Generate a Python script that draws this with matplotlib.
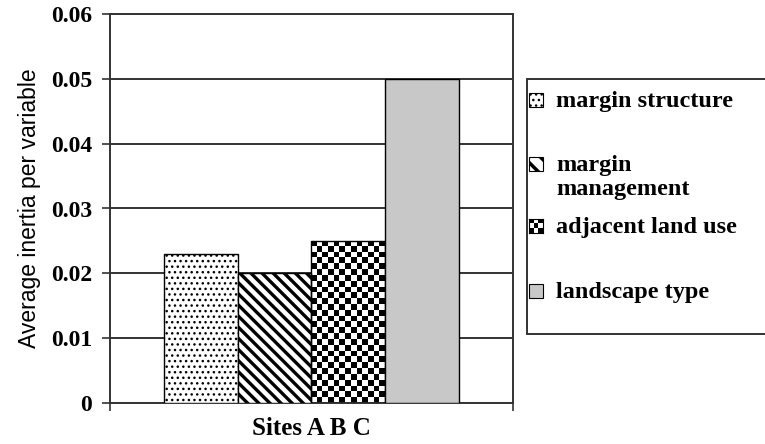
import numpy as np
import matplotlib
matplotlib.use("Agg")
import matplotlib.pyplot as plt
from matplotlib.patches import Rectangle

# Average inertia per variable, sites A B C
variables = ["margin structure", "margin\nmanagement", "adjacent land use", "landscape type"]
inertia = [0.023, 0.020, 0.025, 0.050]
yticks = [0, 0.01, 0.02, 0.03, 0.04, 0.05, 0.06]
ytick_labels = ["0", "0.01", "0.02", "0.03", "0.04", "0.05", "0.06"]

W, H = 765, 444
fig = plt.figure(figsize=(W / 100, H / 100), dpi=100)
ax = fig.add_axes([110 / W, 1 - 403 / H, 403 / W, 389 / H])

serif = ["Liberation Serif", "DejaVu Serif"]
sans = ["Liberation Sans", "DejaVu Sans"]
edge = "#333333"

x = np.arange(len(inertia))
bars = ax.bar(x, inertia, width=1.0, edgecolor="black", linewidth=1.0, zorder=3)
bars[0].set_facecolor("white")
bars[0].set_hatch("...")
bars[1].set_facecolor("white")
bars[1].set_hatch("\\\\\\")
bars[1].set_hatch_linewidth(2.4)
bars[2].set_facecolor("none")
bars[3].set_facecolor("#c8c8c8")

# checkerboard fill for the third bar
b = bars[2]
checker = (np.indices((28, 13)).sum(axis=0) % 2).astype(float)
im = ax.imshow(checker, cmap="gray", interpolation="nearest", aspect="auto",
               extent=[b.get_x(), b.get_x() + b.get_width(), 0, b.get_height()],
               zorder=2.5)
im.set_clip_path(b)

ax.set_xlim(-1.23, 4.23)
ax.set_ylim(0, 0.06)
ax.set_yticks(yticks)
ax.set_yticklabels(ytick_labels, fontfamily=serif, fontweight="bold", fontsize=17)
ax.set_xticks([-1.23, 4.23])
ax.set_xticklabels(["", ""])
ax.tick_params(axis="both", direction="out", length=6, color=edge, width=1.2)
ax.tick_params(axis="y", pad=7)
ax.yaxis.grid(True, color=edge, linewidth=1.4, zorder=0)
ax.set_axisbelow(True)
for s in ax.spines.values():
    s.set_color(edge)
    s.set_linewidth(1.4)

ax.set_ylabel("Average inertia per variable", fontfamily=sans, fontsize=16.5, va="center")
ax.yaxis.set_label_coords(-80 / 403, 0.5)
ax.set_xlabel("Sites A B C", fontfamily=serif, fontweight="bold", fontsize=18, va="top")
ax.xaxis.set_label_coords(0.5, -14 / 389)


def px(xp, yp):
    return xp / W, 1 - yp / H


# legend box
lx, ly = px(527, 334)
fig.patches.append(Rectangle((lx, ly), 300 / W, (334 - 79) / H, transform=fig.transFigure,
                             facecolor="white", edgecolor=edge, linewidth=1.4, zorder=1))

baselines = [107, 171, 233, 298]
hs = 14
for i, (lab, yb) in enumerate(zip(variables, baselines)):
    hx, hy = px(529, yb)
    if i == 2:
        hax = fig.add_axes([hx, hy, hs / W, hs / H])
        hax.imshow((np.indices((3, 3)).sum(axis=0) % 2).astype(float), cmap="gray",
                   interpolation="nearest", aspect="auto")
        hax.set_xticks([])
        hax.set_yticks([])
        hax.set_zorder(3)
    else:
        r = Rectangle((hx, hy), hs / W, hs / H, transform=fig.transFigure,
                      facecolor=bars[i].get_facecolor(), edgecolor="black", linewidth=0.8,
                      hatch=bars[i].get_hatch(), zorder=2)
        if i == 1:
            r.set_hatch("\\\\")
            r.set_hatch_linewidth(2.5)
        fig.patches.append(r)
    for j, line in enumerate(lab.split("\n")):
        tx, ty = px(556, yb + 24 * j)
        fig.text(tx, ty, line, fontfamily=serif, fontweight="bold", fontsize=17.5,
                 va="baseline", ha="left", zorder=3)

fig.savefig("out.png", dpi=100)
